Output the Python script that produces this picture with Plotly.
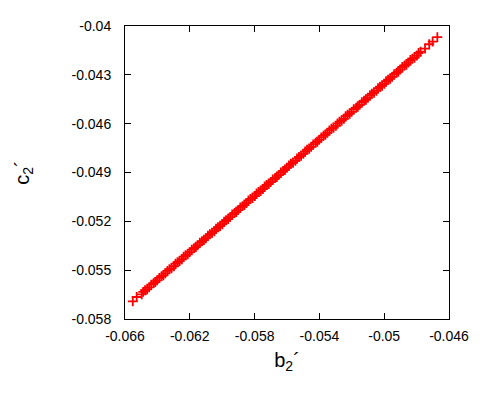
import plotly.graph_objects as go

# ---------------------------------------------------------------------------
# data (b2' vs c2')
b2 = [-0.06552, -0.06528, -0.06497, -0.06476, -0.06451, -0.06423, -0.06402, -0.06374,
      -0.06351, -0.06326, -0.06298, -0.06276, -0.06249, -0.06226, -0.06201, -0.06173,
      -0.06152, -0.06124, -0.06101, -0.06076, -0.06048, -0.06026, -0.05999, -0.05976,
      -0.05951, -0.05923, -0.05902, -0.05874, -0.05851, -0.05826, -0.05798, -0.05776,
      -0.05749, -0.05726, -0.05701, -0.05673, -0.05652, -0.05624, -0.05601, -0.05576,
      -0.05548, -0.05526, -0.05499, -0.05476, -0.05451, -0.05423, -0.05402, -0.05374,
      -0.05351, -0.05326, -0.05298, -0.05276, -0.05249, -0.05226, -0.05201, -0.05173,
      -0.05152, -0.05124, -0.05101, -0.05076, -0.05048, -0.05026, -0.04999, -0.04976,
      -0.04951, -0.04923, -0.04902, -0.04874, -0.04851, -0.04826, -0.04798, -0.04776,
      -0.04748, -0.04722, -0.04701, -0.04672]
c2 = [-0.05692, -0.05665, -0.05649, -0.05622, -0.05606, -0.05580, -0.05563, -0.05536,
      -0.05520, -0.05494, -0.05476, -0.05450, -0.05433, -0.05408, -0.05390, -0.05364,
      -0.05347, -0.05321, -0.05304, -0.05278, -0.05261, -0.05235, -0.05218, -0.05192,
      -0.05174, -0.05148, -0.05131, -0.05106, -0.05088, -0.05062, -0.05045, -0.05019,
      -0.05002, -0.04976, -0.04959, -0.04933, -0.04916, -0.04890, -0.04872, -0.04846,
      -0.04829, -0.04804, -0.04786, -0.04760, -0.04743, -0.04717, -0.04700, -0.04674,
      -0.04657, -0.04631, -0.04614, -0.04588, -0.04570, -0.04544, -0.04527, -0.04502,
      -0.04484, -0.04458, -0.04441, -0.04415, -0.04398, -0.04372, -0.04355, -0.04329,
      -0.04312, -0.04286, -0.04268, -0.04242, -0.04225, -0.04200, -0.04182, -0.04157,
      -0.04139, -0.04112, -0.04096, -0.04068]

# second batch of points filling the band in between
b2_fill = [-0.06488, -0.06463, -0.06438, -0.06413, -0.06388, -0.06363, -0.06338, -0.06313,
           -0.06288, -0.06263, -0.06238, -0.06213, -0.06188, -0.06163, -0.06138, -0.06113,
           -0.06088, -0.06063, -0.06038, -0.06013, -0.05988, -0.05963, -0.05938, -0.05913,
           -0.05888, -0.05863, -0.05838, -0.05813, -0.05788, -0.05763, -0.05738, -0.05713,
           -0.05688, -0.05663, -0.05638, -0.05613, -0.05588, -0.05563, -0.05538, -0.05513,
           -0.05488, -0.05463, -0.05438, -0.05413, -0.05388, -0.05363, -0.05338, -0.05313,
           -0.05288, -0.05263, -0.05238, -0.05213, -0.05188, -0.05163, -0.05138, -0.05113,
           -0.05088, -0.05063, -0.05038, -0.05013, -0.04988, -0.04963, -0.04938, -0.04913,
           -0.04888, -0.04863, -0.04838, -0.04813, -0.04788]
c2_fill = [-0.05633, -0.05618, -0.05589, -0.05574, -0.05547, -0.05532, -0.05504, -0.05489,
           -0.05460, -0.05445, -0.05417, -0.05403, -0.05374, -0.05359, -0.05331, -0.05316,
           -0.05288, -0.05272, -0.05245, -0.05229, -0.05202, -0.05186, -0.05158, -0.05143,
           -0.05115, -0.05100, -0.05072, -0.05057, -0.05029, -0.05014, -0.04986, -0.04971,
           -0.04943, -0.04928, -0.04900, -0.04885, -0.04856, -0.04841, -0.04813, -0.04798,
           -0.04770, -0.04755, -0.04727, -0.04712, -0.04684, -0.04668, -0.04641, -0.04625,
           -0.04598, -0.04582, -0.04554, -0.04539, -0.04511, -0.04496, -0.04468, -0.04453,
           -0.04425, -0.04410, -0.04382, -0.04367, -0.04339, -0.04324, -0.04296, -0.04281,
           -0.04252, -0.04238, -0.04209, -0.04195, -0.04166]

# tick labels
x_ticks = [-0.066, -0.062, -0.058, -0.054, -0.05, -0.046]
x_labels = ["-0.066", "-0.062", "-0.058", "-0.054", "-0.05", "-0.046"]
y_ticks = [-0.058, -0.055, -0.052, -0.049, -0.046, -0.043, -0.04]
y_labels = ["-0.058", "-0.055", "-0.052", "-0.049", "-0.046", "-0.043", "-0.04"]
# ---------------------------------------------------------------------------

# marker style: gnuplot-like red plus
plus = dict(symbol="cross-thin", size=7, line=dict(color="#ff0000", width=1.8))

# create scatter
fig = go.Figure()
fig.add_trace(go.Scatter(x=b2, y=c2, mode="markers", marker=plus, showlegend=False))
fig.add_trace(go.Scatter(x=b2_fill, y=c2_fill, mode="markers", marker=plus, showlegend=False))

# shared axis style
font = "Liberation Sans, Arial"
axis = dict(
  showgrid=False, zeroline=False, showline=True, linecolor="black", linewidth=1,
  mirror="ticks", ticks="inside", ticklen=6, tickcolor="black",
  tickfont=dict(family=font, size=14, color="black"),
)

# custom layout (page body adds an 8px offset)
fig.update_layout(
  width=500, height=400,
  margin=dict(l=117, r=59, t=10, b=89),
  plot_bgcolor="white", paper_bgcolor="white",
  xaxis=dict(axis, range=[-0.066, -0.046], tickvals=x_ticks, ticktext=x_labels,
             ticklabelstandoff=4,
             title=dict(text="b<sub>2</sub>´", standoff=10,
                        font=dict(family=font, size=20, color="black"))),
  yaxis=dict(axis, range=[-0.058, -0.04], tickvals=y_ticks, ticktext=y_labels,
             ticklabelstandoff=10,
             title=dict(text="c<sub>2</sub>´", standoff=36,
                        font=dict(family=font, size=20, color="black"))),
)

fig.write_html("out.html")
